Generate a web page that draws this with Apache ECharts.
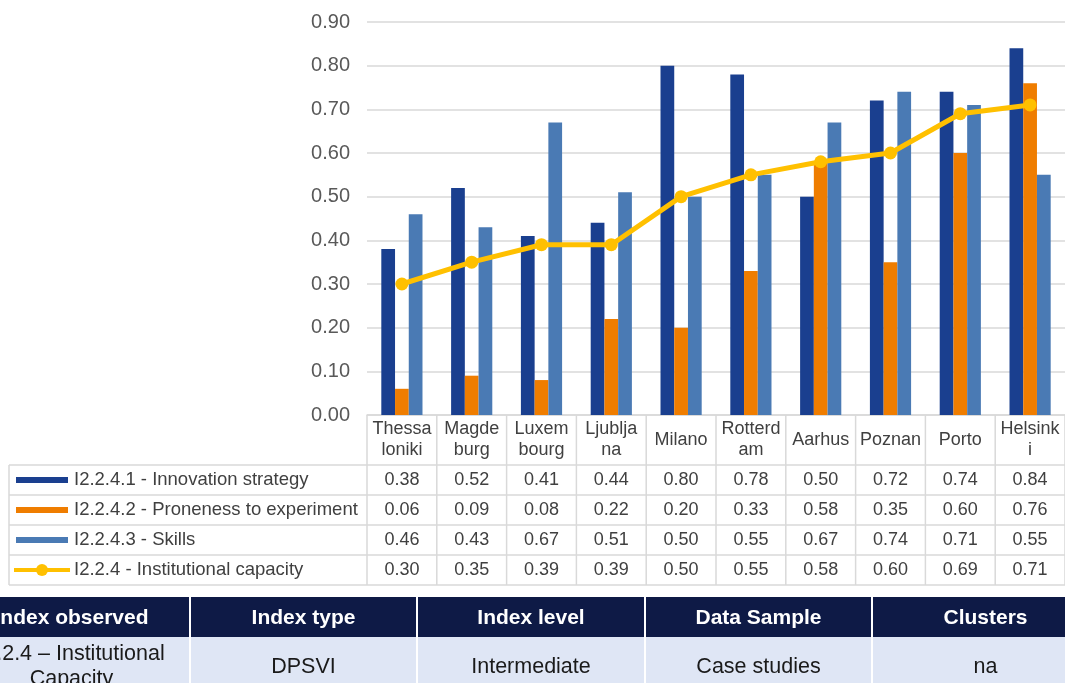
<!DOCTYPE html>
<html>
<head>
<meta charset="utf-8">
<script src="https://cdn.jsdelivr.net/npm/echarts@6/dist/echarts.min.js"></script>
<style>
  html, body { margin: 0; padding: 0; background: #fff; }
  #chart { width: 1065px; height: 683px; }
</style>
</head>
<body>
<div id="chart"></div>
<script>
// city labels as wrapped in the data table header
const cities = ['Thessa\nloniki', 'Magde\nburg', 'Luxem\nbourg', 'Ljublja\nna', 'Milano', 'Rotterd\nam', 'Aarhus', 'Poznan', 'Porto', 'Helsink\ni']
const seriesNames = [
    'I2.2.4.1 - Innovation strategy',
    'I2.2.4.2 - Proneness to experiment',
    'I2.2.4.3 - Skills',
    'I2.2.4 - Institutional capacity'
]
const innovation = [0.38, 0.52, 0.41, 0.44, 0.80, 0.78, 0.50, 0.72, 0.74, 0.84]
const proneness = [0.06, 0.09, 0.08, 0.22, 0.20, 0.33, 0.58, 0.35, 0.60, 0.76]
const skills = [0.46, 0.43, 0.67, 0.51, 0.50, 0.55, 0.67, 0.74, 0.71, 0.55]
const institutional = [0.30, 0.35, 0.39, 0.39, 0.50, 0.55, 0.58, 0.60, 0.69, 0.71]
const yTicks = [0, 0.1, 0.2, 0.3, 0.4, 0.5, 0.6, 0.7, 0.8, 0.9]

// info table under the chart
const infoHeaders = ['Index observed', 'Index type', 'Index level', 'Data Sample', 'Clusters']
const infoValues = ['I2.2.4 – Institutional\nCapacity', 'DPSVI', 'Intermediate', 'Case studies', 'na']

const colors = ['#1a3f8f', '#ef7d00', '#4a7ab4', '#ffc000']
const font = 'Liberation Sans, Arial, sans-serif'
const gridColor = '#d9d9d9'

const chart = echarts.init(document.getElementById('chart'), null, { renderer: 'canvas' })

const option = {
    animation: false,
    textStyle: { fontFamily: font },
    grid: { left: 367, top: 22, width: 700, height: 393, containLabel: false },
    xAxis: {
        type: 'category',
        data: cities,
        axisLine: { show: true, lineStyle: { color: gridColor, width: 1.5 } },
        axisTick: { show: false },
        axisLabel: { show: false }
    },
    yAxis: {
        type: 'value',
        min: yTicks[0],
        max: yTicks[yTicks.length - 1],
        interval: 0.1,
        axisLine: { show: false },
        axisTick: { show: false },
        axisLabel: {
            formatter: v => v.toFixed(2),
            fontSize: 20,
            color: '#595959',
            margin: 17
        },
        splitLine: { lineStyle: { color: gridColor, width: 1.5 } }
    },
    series: [
        { name: seriesNames[0], type: 'bar', data: innovation, itemStyle: { color: colors[0] }, barGap: '0%', barCategoryGap: '41%' },
        { name: seriesNames[1], type: 'bar', data: proneness, itemStyle: { color: colors[1] } },
        { name: seriesNames[2], type: 'bar', data: skills, itemStyle: { color: colors[2] } },
        {
            name: seriesNames[3], type: 'line', data: institutional, z: 5,
            symbol: 'circle', symbolSize: 13,
            lineStyle: { color: colors[3], width: 5 },
            itemStyle: { color: colors[3] }
        }
    ]
}
chart.setOption(option)

// data table below the plot, positioned from the axis scale
const tableTop = 415
const headerBottom = 465
const rowH = 30
const tableLeft = 9
const allRows = [innovation, proneness, skills, institutional]
const xs = cities.map((c, i) => chart.convertToPixel({ xAxisIndex: 0 }, i))
const half = (xs[1] - xs[0]) / 2
const plotRight = xs[xs.length - 1] + half
const tableBottom = headerBottom + rowH * allRows.length
const graphic = []
const line = (x1, y1, x2, y2, color, w) => graphic.push({
    type: 'line', shape: { x1, y1, x2, y2 }, style: { stroke: color || gridColor, lineWidth: w || 1.5 }, z: 10
})

// horizontal lines
for (let r = 0; r <= allRows.length; r++) {
    const y = headerBottom + r * rowH
    line(tableLeft, y, plotRight, y)
}
// vertical lines
line(tableLeft, headerBottom, tableLeft, tableBottom)
xs.forEach(x => line(x - half, tableTop, x - half, tableBottom))
line(plotRight, tableTop, plotRight, tableBottom)

// city header text
xs.forEach((x, i) => {
    graphic.push({
        type: 'text', x, y: (tableTop + headerBottom) / 2, z: 10,
        style: { text: cities[i], fontSize: 18, lineHeight: 21, fill: '#404040', fontFamily: font, align: 'center', verticalAlign: 'middle' }
    })
})

// value cells + legend keys
allRows.forEach((vals, r) => {
    const cy = headerBottom + r * rowH + rowH / 2
    vals.forEach((v, i) => {
        graphic.push({
            type: 'text', x: xs[i], y: cy, z: 10,
            style: { text: v.toFixed(2), fontSize: 18, fill: '#404040', fontFamily: font, align: 'center', verticalAlign: 'middle' }
        })
    })
    if (r < 3) {
        graphic.push({ type: 'rect', shape: { x: 16, y: cy - 3, width: 52, height: 6 }, style: { fill: colors[r] }, z: 10 })
    } else {
        line(14, cy, 70, cy, colors[3], 4)
        graphic.push({ type: 'circle', shape: { cx: 42, cy, r: 6 }, style: { fill: colors[3] }, z: 11 })
    }
    graphic.push({
        type: 'text', x: 74, y: cy, z: 10,
        style: { text: seriesNames[r], fontSize: 18.5, fill: '#404040', fontFamily: font, align: 'left', verticalAlign: 'middle' }
    })
})

// info table
const colEdges = [-47, 190, 417, 645, 872, 1099]
const headTop = 597, headBottom = 637, bodyBottom = 700
infoHeaders.forEach((h, i) => {
    const x0 = colEdges[i], x1 = colEdges[i + 1]
    graphic.push({ type: 'rect', shape: { x: x0, y: headTop, width: x1 - x0, height: headBottom - headTop }, style: { fill: '#0e1a46' }, z: 10 })
    graphic.push({ type: 'rect', shape: { x: x0, y: headBottom, width: x1 - x0, height: bodyBottom - headBottom }, style: { fill: '#dfe6f5' }, z: 10 })
    graphic.push({
        type: 'text', x: (x0 + x1) / 2, y: 618, z: 11,
        style: { text: h, fontSize: 21, fontWeight: 'bold', fill: '#fff', fontFamily: font, align: 'center', verticalAlign: 'middle' }
    })
    graphic.push({
        type: 'text', x: (x0 + x1) / 2, y: 667, z: 11,
        style: { text: infoValues[i], fontSize: 21.5, lineHeight: 25, fill: '#1a1a1a', fontFamily: font, align: 'center', verticalAlign: 'middle' }
    })
})
colEdges.slice(1, -1).forEach(x => line(x, headTop, x, bodyBottom, '#ffffff', 2))

chart.setOption({ graphic })

window.addEventListener('resize', () => {
    chart.resize()
})
</script>
</body>
</html>
